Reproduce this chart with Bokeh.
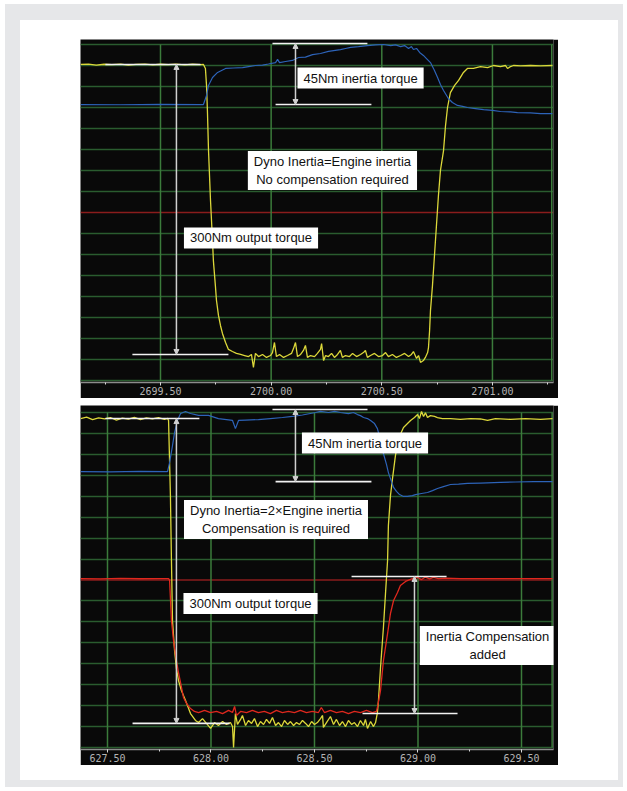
import numpy as np
from bokeh.plotting import figure
from bokeh.layouts import column
from bokeh.models import (Range1d, SingleIntervalTicker, FixedTicker, NumeralTickFormatter,
                          Span, Label, Arrow, NormalHead, ColumnDataSource)
from bokeh.embed import file_html
from bokeh.resources import INLINE

# ---------------------------------------------------------------------------
# Recorded channels (time in s, value in screen divisions, 16 divisions tall)
# ---------------------------------------------------------------------------

# Test 1: dyno inertia equal to engine inertia
P1_YELLOW = [
    (2699.139, 15.05), (2699.175, 15.07), (2699.210, 15.02), (2699.245, 15.06), (2699.280, 15.04),
    (2699.320, 15.07), (2699.355, 15.02), (2699.390, 15.05), (2699.430, 15.07), (2699.465, 15.03),
    (2699.500, 15.06), (2699.535, 15.04), (2699.570, 15.07), (2699.610, 15.03), (2699.645, 15.06),
    (2699.680, 15.04), (2699.694, 15.05),
    (2699.703, 14.86), (2699.708, 14.05), (2699.712, 12.86), (2699.717, 10.95), (2699.726, 8.57),
    (2699.735, 6.67), (2699.739, 5.71), (2699.748, 4.52), (2699.753, 3.81), (2699.762, 3.10),
    (2699.771, 2.62), (2699.780, 2.24), (2699.794, 1.81), (2699.807, 1.48), (2699.825, 1.38),
    (2699.843, 1.29), (2699.862, 1.24),
    (2699.880, 1.19), (2699.898, 1.14), (2699.911, 1.24), (2699.920, 0.62), (2699.929, 1.29),
    (2699.943, 1.14), (2699.961, 1.24), (2699.979, 1.10), (2699.997, 1.19), (2700.006, 1.33),
    (2700.015, 1.81), (2700.024, 1.14), (2700.038, 1.24), (2700.056, 1.10), (2700.074, 1.19),
    (2700.092, 1.29), (2700.101, 1.52), (2700.110, 1.81), (2700.119, 1.14), (2700.133, 1.24),
    (2700.146, 1.43), (2700.155, 1.67), (2700.164, 1.10), (2700.178, 1.19), (2700.196, 1.14),
    (2700.209, 1.29), (2700.223, 1.48), (2700.228, 1.76), (2700.237, 0.95), (2700.246, 1.19),
    (2700.259, 1.14), (2700.273, 1.29), (2700.286, 1.10), (2700.300, 1.24), (2700.313, 1.43),
    (2700.322, 1.10), (2700.336, 1.19), (2700.354, 1.14), (2700.368, 1.29), (2700.386, 1.14),
    (2700.404, 1.24), (2700.417, 1.33), (2700.426, 1.43), (2700.435, 1.10), (2700.449, 1.19),
    (2700.467, 1.29), (2700.485, 1.14), (2700.503, 1.19), (2700.517, 1.33), (2700.530, 1.14),
    (2700.548, 1.24), (2700.566, 1.10), (2700.585, 1.19), (2700.603, 1.29), (2700.621, 1.14),
    (2700.634, 1.24), (2700.643, 1.38), (2700.657, 1.05), (2700.666, 1.19), (2700.675, 0.86),
    (2700.688, 0.95), (2700.697, 1.10), (2700.707, 1.33),
    (2700.711, 1.57), (2700.716, 2.38), (2700.720, 3.33), (2700.729, 4.52), (2700.738, 5.95),
    (2700.747, 7.38), (2700.756, 8.81), (2700.765, 10.00), (2700.779, 10.95), (2700.788, 12.14),
    (2700.797, 13.00), (2700.810, 13.71), (2700.829, 14.05), (2700.847, 14.29), (2700.869, 14.67),
    (2700.887, 14.86), (2700.914, 14.86), (2700.946, 14.95), (2700.978, 14.90), (2701.005, 15.00),
    (2701.036, 14.95), (2701.059, 15.00), (2701.068, 14.86), (2701.082, 14.95), (2701.095, 15.00),
    (2701.127, 14.98), (2701.172, 15.00), (2701.217, 14.98), (2701.271, 15.00),
]

P1_BLUE = [
    (2699.139, 13.14), (2699.319, 13.13), (2699.500, 13.15), (2699.681, 13.14), (2699.694, 13.14),
    (2699.708, 13.57), (2699.717, 14.05), (2699.735, 14.43), (2699.758, 14.67), (2699.794, 14.86),
    (2699.830, 14.88), (2699.871, 14.90), (2699.898, 14.95), (2699.929, 15.00), (2699.961, 15.02),
    (2699.988, 15.07), (2700.020, 15.14), (2700.029, 15.29), (2700.038, 15.14), (2700.065, 15.19),
    (2700.096, 15.24), (2700.124, 15.38), (2700.155, 15.40), (2700.187, 15.52), (2700.223, 15.57),
    (2700.259, 15.67), (2700.282, 15.71), (2700.313, 15.76), (2700.336, 15.81), (2700.359, 15.86),
    (2700.395, 15.90), (2700.435, 15.95), (2700.472, 15.98), (2700.508, 16.00), (2700.540, 15.95),
    (2700.562, 15.98), (2700.585, 15.90), (2700.603, 15.95), (2700.621, 15.81), (2700.634, 15.90),
    (2700.643, 15.76), (2700.657, 15.81), (2700.671, 15.62), (2700.688, 15.48), (2700.702, 15.33),
    (2700.720, 15.14), (2700.738, 14.76), (2700.752, 14.43), (2700.765, 14.10), (2700.779, 13.81),
    (2700.801, 13.43), (2700.819, 13.24), (2700.842, 13.10), (2700.865, 13.05), (2700.887, 13.00),
    (2700.923, 12.95), (2700.960, 12.90), (2701.000, 12.86), (2701.036, 12.81), (2701.082, 12.79),
    (2701.113, 12.76), (2701.172, 12.74), (2701.217, 12.71), (2701.271, 12.71),
]

# Test 2: dyno inertia twice the engine inertia, compensation channel in red
P2_YELLOW = [
    (627.370, 15.71), (627.399, 15.78), (627.428, 15.66), (627.457, 15.74), (627.486, 15.69),
    (627.514, 15.76), (627.543, 15.64), (627.572, 15.73), (627.601, 15.68), (627.630, 15.77),
    (627.659, 15.66), (627.688, 15.74), (627.717, 15.70), (627.746, 15.76), (627.775, 15.67),
    (627.790, 15.72),
    (627.795, 15.62), (627.804, 12.03), (627.809, 8.93), (627.814, 6.06), (627.824, 4.63),
    (627.833, 3.77), (627.843, 3.20), (627.857, 2.72), (627.877, 2.24), (627.901, 1.62),
    (627.925, 1.29),
    (627.940, 1.19), (627.959, 1.38), (627.978, 1.15), (627.998, 0.91), (628.017, 1.19),
    (628.036, 1.05), (628.056, 1.24), (628.075, 1.10), (628.094, 1.19), (628.104, 1.00),
    (628.109, 0.00), (628.118, 1.62), (628.128, 1.10), (628.143, 1.34), (628.152, 1.53),
    (628.167, 1.05), (628.181, 1.29), (628.196, 1.15), (628.210, 1.38), (628.225, 1.00),
    (628.239, 1.24), (628.254, 1.10), (628.268, 1.34), (628.283, 1.15), (628.297, 1.43),
    (628.312, 1.05), (628.326, 1.19), (628.341, 1.00), (628.355, 1.29), (628.370, 1.10),
    (628.384, 1.24), (628.399, 1.05), (628.413, 1.19), (628.428, 1.10), (628.442, 1.29),
    (628.457, 1.15), (628.471, 1.00), (628.486, 1.24), (628.500, 1.10), (628.514, 1.19),
    (628.529, 1.38), (628.539, 1.53), (628.543, 0.96), (628.558, 1.19), (628.577, 1.48),
    (628.592, 1.10), (628.606, 1.34), (628.621, 1.05), (628.635, 1.24), (628.650, 1.00),
    (628.664, 1.29), (628.679, 1.10), (628.693, 1.19), (628.708, 1.00), (628.722, 1.29),
    (628.737, 1.05), (628.746, 1.34), (628.756, 0.91), (628.771, 1.24), (628.785, 1.00),
    (628.795, 1.19), (628.804, 1.67),
    (628.809, 2.24), (628.819, 3.82), (628.833, 5.73), (628.843, 7.35), (628.853, 8.93),
    (628.857, 10.60), (628.867, 12.03), (628.877, 12.85), (628.891, 13.94), (628.906, 14.76),
    (628.930, 15.28), (628.964, 15.62), (628.983, 15.76), (628.998, 15.90), (629.007, 15.71),
    (629.017, 16.05), (629.027, 15.81), (629.036, 15.99), (629.046, 15.76), (629.060, 15.85),
    (629.080, 15.81), (629.094, 15.76), (629.118, 15.71), (629.157, 15.71), (629.205, 15.67),
    (629.254, 15.71), (629.302, 15.69), (629.336, 15.62), (629.374, 15.71), (629.447, 15.67),
    (629.519, 15.71), (629.592, 15.67), (629.650, 15.71),
]

P2_RED = [
    (627.370, 8.07), (627.466, 8.05), (627.563, 8.08), (627.659, 8.06), (627.756, 8.07),
    (627.795, 8.07),
    (627.800, 7.98), (627.809, 6.06), (627.819, 5.11), (627.833, 4.15), (627.843, 3.58),
    (627.853, 3.10), (627.867, 2.39), (627.882, 2.10), (627.901, 1.86), (627.920, 1.72),
    (627.940, 1.67),
    (627.969, 1.77), (627.998, 1.67), (628.027, 1.72), (628.056, 1.62), (628.085, 1.77),
    (628.104, 1.67), (628.114, 1.96), (628.123, 1.53), (628.143, 1.72), (628.172, 1.67),
    (628.200, 1.77), (628.229, 1.67), (628.258, 1.72), (628.287, 1.62), (628.316, 1.77),
    (628.345, 1.67), (628.374, 1.72), (628.403, 1.67), (628.432, 1.77), (628.461, 1.67),
    (628.490, 1.72), (628.519, 1.67), (628.533, 1.91), (628.548, 1.67), (628.577, 1.77),
    (628.606, 1.67), (628.635, 1.72), (628.664, 1.62), (628.693, 1.72), (628.722, 1.67),
    (628.751, 1.77), (628.780, 1.67), (628.799, 1.72),
    (628.804, 1.91), (628.819, 2.72), (628.833, 4.15), (628.853, 5.44), (628.867, 6.40),
    (628.882, 7.02), (628.901, 7.40), (628.915, 7.74), (628.940, 7.93), (628.973, 8.07),
    (628.998, 8.12), (629.017, 8.02), (629.036, 8.14), (629.056, 8.05), (629.075, 8.12),
    (629.099, 8.07), (629.133, 8.09), (629.205, 8.07), (629.302, 8.07), (629.399, 8.07),
    (629.495, 8.07), (629.650, 8.07),
]

P2_BLUE = [
    (627.370, 13.18), (627.514, 13.16), (627.659, 13.19), (627.790, 13.18),
    (627.800, 13.61), (627.814, 14.42), (627.824, 15.04), (627.838, 15.62), (627.853, 15.95),
    (627.877, 16.05), (627.901, 15.95), (627.940, 15.86), (627.988, 15.86), (628.036, 15.71),
    (628.075, 15.66), (628.104, 15.62), (628.118, 15.23), (628.133, 15.62), (628.167, 15.64),
    (628.229, 15.66), (628.287, 15.71), (628.345, 15.76), (628.394, 15.81), (628.442, 15.88),
    (628.505, 16.00), (628.529, 16.05), (628.568, 16.00), (628.597, 16.05), (628.626, 16.00),
    (628.664, 15.95), (628.688, 16.00), (628.708, 15.90), (628.722, 15.85), (628.737, 15.76),
    (628.756, 15.71), (628.771, 15.62), (628.790, 15.47), (628.804, 15.23), (628.819, 14.66),
    (628.833, 14.04), (628.848, 13.51), (628.857, 13.13), (628.872, 12.70), (628.882, 12.42),
    (628.896, 12.23), (628.911, 12.08), (628.930, 11.99), (628.949, 11.99), (628.973, 12.03),
    (628.988, 12.08), (629.017, 12.13), (629.046, 12.18), (629.070, 12.27), (629.094, 12.37),
    (629.123, 12.46), (629.157, 12.56), (629.196, 12.58), (629.239, 12.61), (629.302, 12.63),
    (629.399, 12.66), (629.471, 12.68), (629.558, 12.70), (629.650, 12.70),
]

# Time axis ticks (labelled every 0.5 s)
P1_TICKS = [2699.5, 2700.0, 2700.5, 2701.0]
P2_TICKS = [627.5, 628.0, 628.5, 629.0, 629.5]

# Screen divisions and the zero (red) division
DIVISIONS = list(range(0, 17))
ZERO_DIV = 8

# ---------------------------------------------------------------------------
# Styling
# ---------------------------------------------------------------------------
BG = "#090909"
H_GRID = "#2a5c2f"
V_GRID = "#3b7b3b"
ZERO_LINE = "#8a1c1c"
YELLOW = "#dcd83a"
BLUE = "#2d63b8"
RED = "#e0281e"
GUIDE = "#f2f2f2"
ARROW = "#d0d0d0"
LABEL_FONT = "Liberation Sans"


def make_panel(x_start, x_end, x_edge, y_start, y_end, height, ticks):
    p = figure(width=478, height=height, output_backend="svg", toolbar_location=None, tools="",
               x_range=Range1d(x_start, x_end), y_range=Range1d(y_start, y_end),
               y_axis_location=None, min_border_left=0, min_border_right=5,
               min_border_top=0, min_border_bottom=16,
               background_fill_color=BG, border_fill_color=BG, outline_line_color=None)

    # horizontal division lines across the full screen width
    p.ygrid.ticker = FixedTicker(ticks=[d for d in DIVISIONS if d != ZERO_DIV])
    p.ygrid.grid_line_color = H_GRID
    p.ygrid.grid_line_width = 1.5
    p.xgrid.visible = False
    p.add_layout(Span(location=ZERO_DIV, dimension="width", line_color=ZERO_LINE,
                      line_width=1.5, level="underlay"))

    # vertical time lines between the bottom and top divisions
    vx = ticks + [x_edge]
    p.segment(x0=vx, x1=vx, y0=[DIVISIONS[0]] * len(vx), y1=[DIVISIONS[-1]] * len(vx),
              line_color=V_GRID, line_width=1.5)

    ax = p.xaxis[0]
    ax.ticker = SingleIntervalTicker(interval=0.5, num_minor_ticks=2)
    ax.formatter = NumeralTickFormatter(format="0.00")
    ax.axis_line_color = "#8c8c8c"
    ax.axis_line_width = 1.5
    ax.major_tick_line_color = "#d8d8d8"
    ax.major_tick_in = 0
    ax.major_tick_out = 3
    ax.minor_tick_line_color = "#d8d8d8"
    ax.minor_tick_in = 0
    ax.minor_tick_out = 2
    ax.major_label_standoff = 1
    ax.major_label_text_color = "#b4b4b4"
    ax.major_label_text_font = "DejaVu Sans Mono"
    ax.major_label_text_font_size = "10px"
    return p


def trace(p, data, color, width=1.3):
    t, v = zip(*data)
    p.line(x=list(t), y=list(v), line_color=color, line_width=width)


def guide(p, x0, x1, y):
    p.segment(x0=[x0], x1=[x1], y0=[y], y1=[y], line_color=GUIDE, line_width=1.6)


def span_arrow(p, x, y_top, y_bottom):
    head = dict(size=5, fill_color=ARROW, line_color=ARROW)
    p.add_layout(Arrow(x_start=x, y_start=y_top, x_end=x, y_end=y_bottom,
                       start=NormalHead(**head), end=NormalHead(**head),
                       line_color=ARROW, line_width=1.5))


def note(p, x, y, text):
    p.add_layout(Label(x=x, y=y, text=text, text_align="center", text_baseline="middle",
                       text_font=LABEL_FONT, text_font_size="13px", text_color="#111111",
                       background_fill_color="#ffffff", padding=(6, 3)))


# ---------------------------------------------------------------------------
# Panel 1
# ---------------------------------------------------------------------------
p1 = make_panel(2699.1385, 2701.2759, 2701.268, -0.095, 16.238, 359, P1_TICKS)
trace(p1, P1_YELLOW, YELLOW)
trace(p1, P1_BLUE, BLUE, 1.2)

out_hi, out_lo = P1_YELLOW[0][1], P1_YELLOW[33][1]
guide(p1, 2699.251, 2699.681, out_hi)
guide(p1, 2699.373, 2699.807, out_lo)
span_arrow(p1, 2699.572, out_hi, out_lo)

inertia_hi, inertia_lo = 16.05, P1_BLUE[0][1]
guide(p1, 2700.006, 2700.435, inertia_hi)
guide(p1, 2700.020, 2700.453, inertia_lo)
span_arrow(p1, 2700.110, inertia_hi, inertia_lo)

note(p1, 2700.404, 14.40, "45Nm inertia torque")
note(p1, 2700.277, 10.0, "Dyno Inertia=Engine inertia\nNo compensation required")
note(p1, 2699.909, 6.79, "300Nm output torque")

# ---------------------------------------------------------------------------
# Panel 2
# ---------------------------------------------------------------------------
p2 = make_panel(627.3696, 629.6546, 629.648, -0.096, 16.334, 360, P2_TICKS)
trace(p2, P2_YELLOW, YELLOW)
trace(p2, P2_BLUE, BLUE, 1.2)
trace(p2, P2_RED, RED)

out2_hi, out2_lo = P2_YELLOW[0][1], 1.15
guide(p2, 627.490, 627.944, out2_hi)
guide(p2, 627.621, 628.090, out2_lo)
span_arrow(p2, 627.833, out2_hi, out2_lo)

inertia2_hi, inertia2_lo = 16.14, P2_BLUE[-1][1]
guide(p2, 628.297, 628.756, inertia2_hi)
guide(p2, 628.312, 628.775, inertia2_lo)
span_arrow(p2, 628.408, inertia2_hi, inertia2_lo)

comp_hi, comp_lo = 8.17, P2_RED[20][1]
guide(p2, 628.679, 629.138, comp_hi)
guide(p2, 628.732, 629.191, comp_lo)
span_arrow(p2, 628.983, comp_hi, comp_lo)

note(p2, 628.744, 14.54, "45Nm inertia torque")
note(p2, 628.314, 10.89, "Dyno Inertia=2\u00d7Engine inertia\nCompensation is required")
note(p2, 628.191, 6.88, "300Nm output torque")
note(p2, 629.336, 4.87, "Inertia Compensation\nadded")

# ---------------------------------------------------------------------------
# Page: grey frame, white card, the two screens stacked
# ---------------------------------------------------------------------------
card = column(p1, p2, spacing=7,
              styles={"background-color": "#ffffff", "padding": "19px 60px 15px 60px"})
page = column(card, styles={"background-color": "#e6e7e9", "padding": "16px 5px 7px 15px",
                            "margin": "4px 0px 0px 5px"})

open("out.html", "w").write(file_html(page, INLINE))
